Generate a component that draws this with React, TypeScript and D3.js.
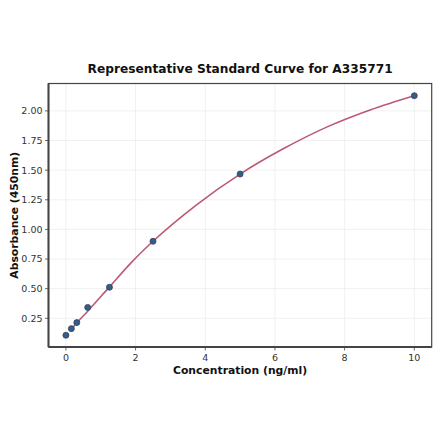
import React from "react";
import * as d3 from "d3";

const concentrations = [0, 0.156, 0.3125, 0.625, 1.25, 2.5, 5, 10];
const absorbances = [0.107, 0.163, 0.214, 0.342, 0.512, 0.9, 1.467, 2.128];

const curveX = [0.156, 0.3125, 0.625, 1.25, 1.875, 2.5, 3.75, 5, 6.25, 7.5, 8.75, 10];
const curveY = [0.158, 0.212, 0.31, 0.515, 0.72, 0.9, 1.208, 1.467, 1.682, 1.865, 2.01, 2.128];

const xTicks = [0, 2, 4, 6, 8, 10];
const yTicks = [0.25, 0.5, 0.75, 1.0, 1.25, 1.5, 1.75, 2.0];

const W = 440;
const H = 441;
const M = { left: 48.5, right: 431.7, top: 83.5, bottom: 347 };

export default function App() {
  const x = d3.scaleLinear().domain([-0.5, 10.5]).range([M.left, M.right]);
  const y = d3.scaleLinear().domain([0.008, 2.231]).range([M.bottom, M.top]);
  const line = d3
    .line<number>()
    .x((d, i) => x(curveX[i]))
    .y((d) => y(d))
    .curve(d3.curveMonotoneX);
  const font = "DejaVu Sans, sans-serif";
  return (
    <svg
      width={W}
      height={H}
      style={{ position: "absolute", left: 0, top: 0, background: "#fff" }}
      fontFamily={font}
    >
      <rect x={0} y={0} width={W} height={H} fill="#fff" />
      {xTicks.map((t) => (
        <line key={"gx" + t} x1={x(t)} x2={x(t)} y1={M.top} y2={M.bottom} stroke="#ececec" strokeWidth={0.8} />
      ))}
      {yTicks.map((t) => (
        <line key={"gy" + t} x1={M.left} x2={M.right} y1={y(t)} y2={y(t)} stroke="#ececec" strokeWidth={0.8} />
      ))}
      <path d={line(curveY) || ""} fill="none" stroke="#bb5a72" strokeWidth={1.6} />
      {concentrations.map((c, i) => (
        <circle key={"p" + i} cx={x(c)} cy={y(absorbances[i])} r={3} fill="#2f5f8c" stroke="#3a3f5a" strokeWidth={0.8} />
      ))}
      <rect
        x={M.left}
        y={M.top}
        width={M.right - M.left}
        height={M.bottom - M.top}
        fill="none"
        stroke="#444"
        strokeWidth={1.2}
      />
      <line x1={M.left} x2={M.left} y1={M.top} y2={M.bottom} stroke="#444" strokeWidth={2} />
      <line x1={M.left} x2={M.right} y1={M.bottom} y2={M.bottom} stroke="#444" strokeWidth={2} />
      {xTicks.map((t) => (
        <g key={"tx" + t}>
          <line x1={x(t)} x2={x(t)} y1={M.bottom} y2={M.bottom + 3.5} stroke="#444" strokeWidth={0.8} />
          <text x={x(t)} y={M.bottom + 14} textAnchor="middle" fontSize={9.5} fill="#333">
            {t}
          </text>
        </g>
      ))}
      {yTicks.map((t) => (
        <g key={"ty" + t}>
          <line x1={M.left - 3.5} x2={M.left} y1={y(t)} y2={y(t)} stroke="#444" strokeWidth={0.8} />
          <text x={M.left - 6} y={y(t) + 3.4} textAnchor="end" fontSize={9.5} fill="#333">
            {t.toFixed(2)}
          </text>
        </g>
      ))}
      <text x={(M.left + M.right) / 2} y={72.5} textAnchor="middle" fontSize={12.2} fontWeight="bold" fill="#111">
        Representative Standard Curve for A335771
      </text>
      <text x={(M.left + M.right) / 2} y={374} textAnchor="middle" fontSize={10.8} fontWeight="bold" fill="#111">
        Concentration (ng/ml)
      </text>
      <text
        transform={`translate(18, ${(M.top + M.bottom) / 2}) rotate(-90)`}
        textAnchor="middle"
        fontSize={10.8}
        fontWeight="bold"
        fill="#111"
      >
        Absorbance (450nm)
      </text>
    </svg>
  );
}
